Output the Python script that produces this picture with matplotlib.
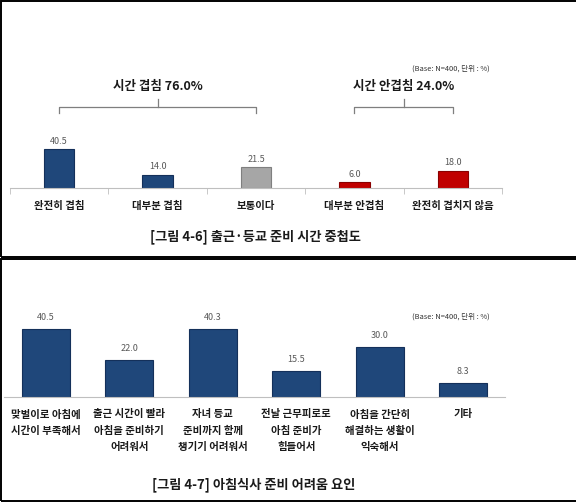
import matplotlib
matplotlib.use("Agg")
import matplotlib.pyplot as plt
from matplotlib.patches import Rectangle
import numpy as np

plt.rcParams['font.family'] = ['Noto Sans CJK KR', 'DejaVu Sans']

# figure 4-6
cats1 = ['완전히 겹침', '대부분 겹침', '보통이다', '대부분 안겹침', '완전히 겹치지 않음']
vals1 = [40.5, 14.0, 21.5, 6.0, 18.0]
cols1 = ['#1f477a', '#1f477a', '#a6a6a6', '#c00000', '#c00000']
edges1 = ['#14305a', '#14305a', '#7f7f7f', '#8a0000', '#8a0000']
groups1 = ['시간 겹침 76.0%', '시간 안겹침 24.0%']
group_span1 = [(0, 2), (3, 4)]
title1 = '[그림 4-6] 출근·등교 준비 시간 중첩도'

# figure 4-7
cats2 = ['맞벌이로 아침에\n시간이 부족해서', '출근 시간이 빨라\n아침을 준비하기\n어려워서',
         '자녀 등교\n준비까지 함께\n챙기기 어려워서', '전날 근무피로로\n아침 준비가\n힘들어서',
         '아침을 간단히\n해결하는 생활이\n익숙해서', '기타']
vals2 = [40.5, 22.0, 40.3, 15.5, 30.0, 8.3]
title2 = '[그림 4-7] 아침식사 준비 어려움 요인'

base_note = '(Base: N=400, 단위 : %)'

W, H = 576, 503
fig = plt.figure(figsize=(W / 100, H / 100), dpi=100)
fig.patch.set_facecolor('white')


def px(x0, y0, w, h):
    # pixel box (top-left origin) -> figure fraction
    return [x0 / W, 1 - (y0 + h) / H, w / W, h / H]


def fx(x):
    return x / W


def fy(y):
    return 1 - y / H


# panel borders
fig.patches.append(Rectangle((fx(1), fy(257)), 1.2, fy(1) - fy(257), transform=fig.transFigure,
                             fill=False, ec='black', lw=1.4))
fig.patches.append(Rectangle((fx(1), fy(501)), 1.2, fy(259) - fy(501), transform=fig.transFigure,
                             fill=False, ec='black', lw=1.4))

# ---- top chart ----
scale1 = 39 / 40.5
ax1 = fig.add_axes(px(10, 120, 492, 68))
ax1.set_ylim(0, 68 / scale1)
ax1.set_xlim(-0.5, len(cats1) - 0.5)
x1 = np.arange(len(cats1))
ax1.bar(x1, vals1, width=0.31, color=cols1, edgecolor=edges1, linewidth=0.8)
for xi, v in zip(x1, vals1):
    ax1.text(xi, v + 3.5, f'{v:.1f}', ha='center', va='bottom', fontsize=6.5, color='#595959')
for s in ['top', 'right', 'left']:
    ax1.spines[s].set_visible(False)
ax1.spines['bottom'].set_color('#bfbfbf')
ax1.set_yticks([])
ax1.set_xticks(x1)
ax1.set_xticklabels(cats1, fontsize=7.5, fontweight='bold', color='#1a1a1a')
ax1.tick_params(axis='x', length=0, pad=9)
ax1.set_xticks(np.arange(-0.5, len(cats1)), minor=True)
ax1.tick_params(axis='x', which='minor', length=4, color='#bfbfbf', direction='out')

for (a, b), g in zip(group_span1, groups1):
    yb = (188 - 107) / scale1
    yv = (188 - 113) / scale1
    yt = (188 - 99) / scale1
    ax1.plot([a, a, b, b], [yv, yb, yb, yv], color='#7f7f7f', lw=0.9, clip_on=False)
    ax1.plot([(a + b) / 2] * 2, [yb, yt], color='#7f7f7f', lw=0.9, clip_on=False)
    ax1.text((a + b) / 2, (188 - 87) / scale1, g, ha='center', va='center', fontsize=9,
             fontweight='bold', color='#1a1a1a')

fig.text(fx(490), fy(69), base_note, ha='right', va='center', fontsize=5.4, color='#333333')
fig.text(fx(255), fy(237), title1, ha='center', va='center', fontsize=9.5, fontweight='bold',
         color='#1a1a1a')

# ---- bottom chart ----
scale2 = 68 / 40.5
ax2 = fig.add_axes(px(4, 312, 501, 85))
ax2.set_ylim(0, 85 / scale2)
ax2.set_xlim(-0.5, len(cats2) - 0.5)
x2 = np.arange(len(cats2))
ax2.bar(x2, vals2, width=0.57, color='#1f477a', edgecolor='#14305a', linewidth=0.8)
for xi, v in zip(x2, vals2):
    ax2.text(xi, v + 4.2, f'{v:.1f}', ha='center', va='bottom', fontsize=6.5, color='#595959')
for s in ['top', 'right', 'left']:
    ax2.spines[s].set_visible(False)
ax2.spines['bottom'].set_color('#bfbfbf')
ax2.set_yticks([])
ax2.set_xticks(x2)
ax2.set_xticklabels(cats2, fontsize=7.5, fontweight='bold', color='#1a1a1a', linespacing=1.75,
                    va='top')
ax2.tick_params(axis='x', length=0, pad=9)

fig.text(fx(490), fy(317), base_note, ha='right', va='center', fontsize=5.4, color='#333333')
fig.text(fx(254), fy(485), title2, ha='center', va='center', fontsize=9.5, fontweight='bold',
         color='#1a1a1a')

fig.savefig('out.png', dpi=100, facecolor='white')
